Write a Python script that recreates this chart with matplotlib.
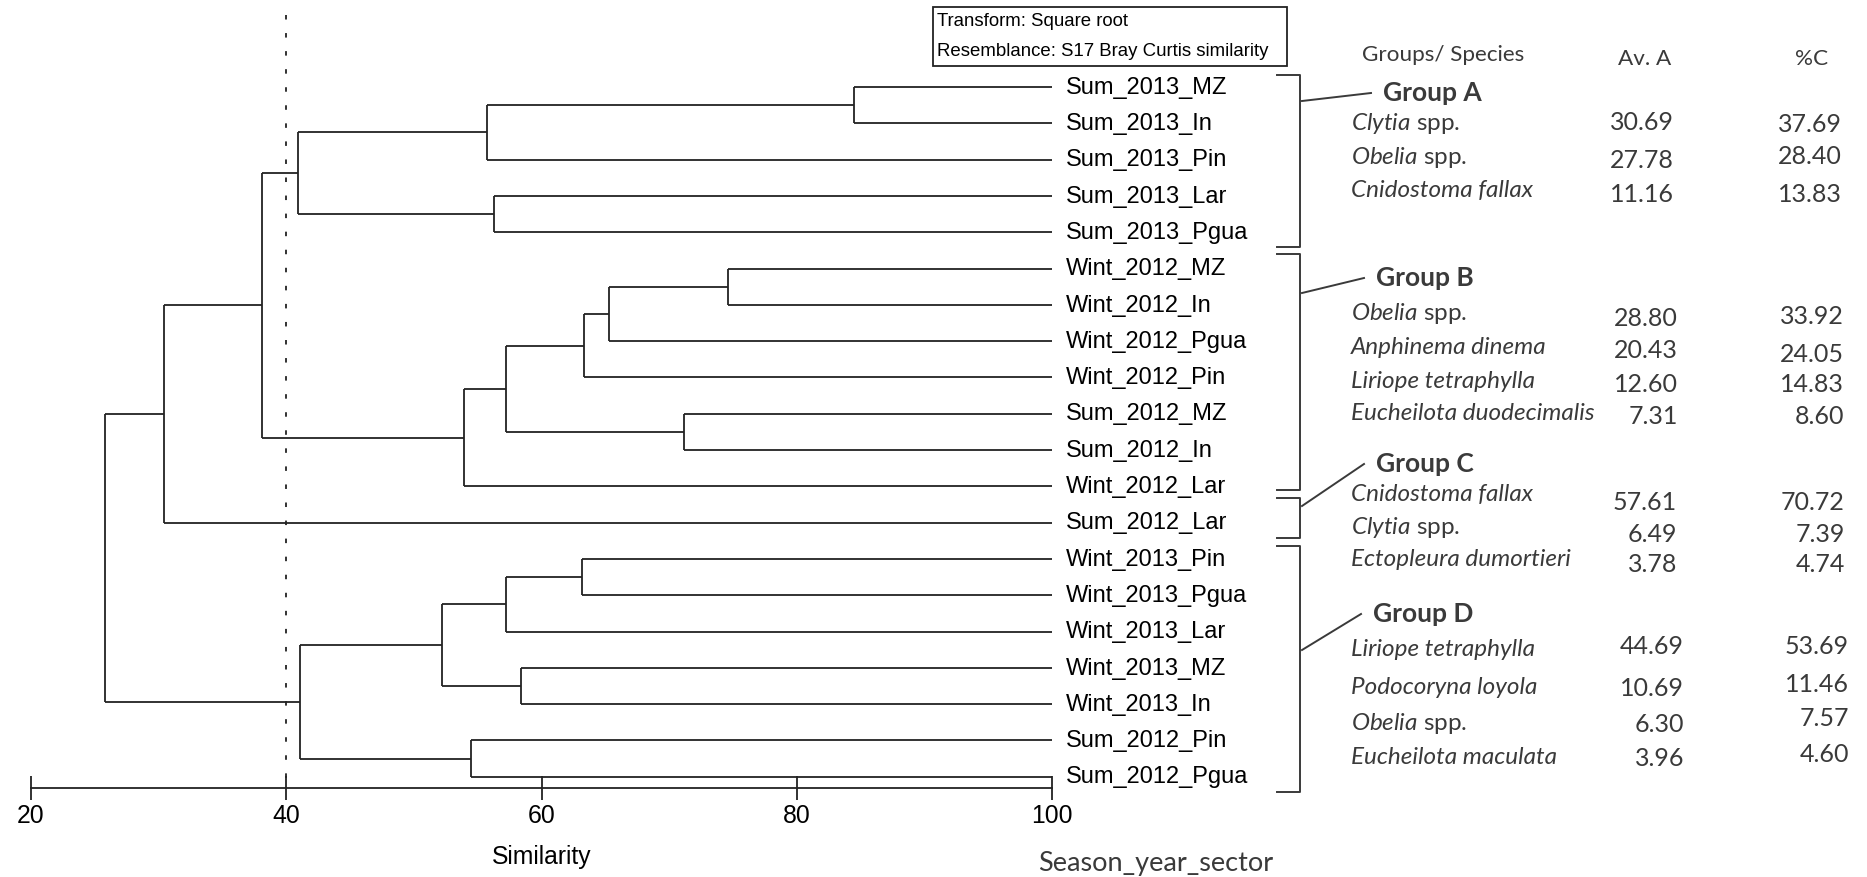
import matplotlib
matplotlib.use('Agg')
import matplotlib.pyplot as plt
from matplotlib import font_manager
from matplotlib.patches import Rectangle

W, H = 1867, 877

leaf_labels = ['Sum_2013_MZ', 'Sum_2013_In', 'Sum_2013_Pin', 'Sum_2013_Lar', 'Sum_2013_Pgua',
               'Wint_2012_MZ', 'Wint_2012_In', 'Wint_2012_Pgua', 'Wint_2012_Pin', 'Sum_2012_MZ',
               'Sum_2012_In', 'Wint_2012_Lar', 'Sum_2012_Lar', 'Wint_2013_Pin', 'Wint_2013_Pgua',
               'Wint_2013_Lar', 'Wint_2013_MZ', 'Wint_2013_In', 'Sum_2012_Pin', 'Sum_2012_Pgua']

# merges in order: ids < 20 are leaves, id 20 + k is the k-th merge
merge_a = [0, 20, 3, 21, 5, 24, 25, 9, 26, 28, 23, 30, 13, 32, 16, 33, 18, 35, 31]
merge_b = [1, 2, 4, 22, 6, 7, 8, 10, 27, 11, 29, 12, 14, 15, 17, 34, 19, 36, 37]
merge_sim = [84.5, 55.7, 56.3, 40.9, 74.6, 65.3, 63.3, 71.2, 57.2, 53.9, 38.1, 30.4,
             63.2, 57.2, 58.4, 52.2, 54.5, 41.1, 25.8]
cut_level = 40
sim_ticks = [20, 40, 60, 80, 100]

groups = ['Group A', 'Group B', 'Group C', 'Group D']
species_a = ['Clytia spp.', 'Obelia spp.', 'Cnidostoma fallax']
av_a = [30.69, 27.78, 11.16]
pc_a = [37.69, 28.40, 13.83]
species_b = ['Obelia spp.', 'Anphinema dinema', 'Liriope tetraphylla', 'Eucheilota duodecimalis']
av_b = [28.80, 20.43, 12.60, 7.31]
pc_b = [33.92, 24.05, 14.83, 8.60]
species_c = ['Cnidostoma fallax', 'Clytia spp.', 'Ectopleura dumortieri']
av_c = [57.61, 6.49, 3.78]
pc_c = [70.72, 7.39, 4.74]
species_d = ['Liriope tetraphylla', 'Podocoryna loyola', 'Obelia spp.', 'Eucheilota maculata']
av_d = [44.69, 10.69, 6.30, 3.96]
pc_d = [53.69, 11.46, 7.57, 4.60]

plt.rcParams['mathtext.fontset'] = 'custom'
plt.rcParams['mathtext.it'] = 'Lato:italic'
plt.rcParams['mathtext.rm'] = 'Lato'

# narrow font if there is one, otherwise Liberation Sans scaled down to the same width
installed = {f.name for f in font_manager.fontManager.ttflist}
if 'Liberation Sans Narrow' in installed:
    narrow, ns = ['Liberation Sans Narrow', 'DejaVu Sans'], 1.0
else:
    narrow, ns = ['Liberation Sans', 'DejaVu Sans'], 0.85
tfont = ['Lato', 'DejaVu Sans']
ink = '#3a3a3a'
lc = '#222222'

fig = plt.figure(figsize=(W / 100, H / 100), dpi=100)

# dendrogram axes (x = similarity, y = leaf order)
x0_px, x1_px, axis_px = 31, 1052, 788
leaf0_px, step_px = 87, 36.3
ax = fig.add_axes([x0_px / W, 1 - axis_px / H, (x1_px - x0_px) / W, axis_px / H])
ax.set_xlim(20, 100)
ybot = (axis_px - leaf0_px) / step_px
ax.set_ylim(ybot, -leaf0_px / step_px)

n = len(leaf_labels)
py = {i: float(i) for i in range(n)}
px = {i: 100.0 for i in range(n)}
for k, (a, b, s) in enumerate(zip(merge_a, merge_b, merge_sim)):
    for c in (a, b):
        ax.plot([s, px[c]], [py[c], py[c]], color=lc, lw=1.3, solid_capstyle='butt')
    ax.plot([s, s], [py[a], py[b]], color=lc, lw=1.3, solid_capstyle='butt')
    py[n + k] = (py[a] + py[b]) / 2
    px[n + k] = s

for i, lab in enumerate(leaf_labels):
    ax.text(101.1, i + 0.02, lab, fontsize=20 * ns, family=narrow, va='center', ha='left',
            color='black', clip_on=False)

ax.plot([cut_level, cut_level], [(15 - leaf0_px) / step_px, ybot], color=lc, lw=1.3,
        ls=(0, (2.5, 7.5)))

for sp in ['top', 'left', 'right']:
    ax.spines[sp].set_visible(False)
ax.spines['bottom'].set_linewidth(1.3)
ax.spines['bottom'].set_color(lc)
ax.set_yticks([])
ax.set_xticks(sim_ticks)
ax.tick_params(axis='x', direction='inout', length=17, width=1.3, color=lc,
               labelsize=21 * ns, pad=3)
for t in ax.get_xticklabels():
    t.set_fontfamily(narrow)
ax.set_xlabel('Similarity', fontsize=21 * ns, family=narrow, labelpad=12)
ax.patch.set_visible(False)

# overlay in pixel units for the legend box, brackets and table
ov = fig.add_axes([0, 0, 1, 1])
ov.set_xlim(0, W)
ov.set_ylim(H, 0)
ov.axis('off')

ov.add_patch(Rectangle((933, 7), 354, 59, fill=False, lw=1.3, ec=lc))
ov.text(937, 22, 'Transform: Square root', fontsize=15.8 * ns, family=narrow, va='center')
ov.text(937, 51, 'Resemblance: S17 Bray Curtis similarity', fontsize=15.8 * ns,
        family=narrow, va='center')

ov.text(1362, 55, 'Groups/ Species', fontsize=16.2, family=tfont, color=ink, va='center')
ov.text(1618, 59, 'Av. A', fontsize=16.2, family=tfont, color=ink, va='center')
ov.text(1795, 59, '%C', fontsize=16.2, family=tfont, color=ink, va='center')

bracket_top = [75, 254, 498, 546]
bracket_bot = [247, 490, 538, 792]
link_from = [101, 293, 506, 650]
head_xy = [(1383, 93), (1376, 278), (1376, 464), (1373, 614)]
name_y = [[124, 158, 191], [313, 348, 381, 414], [494, 528, 559], [649, 688, 724, 758]]
av_y = [[122, 160, 195], [319, 350, 385, 417], [502, 535, 564], [647, 688, 724, 759]]
pc_y = [[124, 156, 195], [317, 354, 385, 416], [502, 535, 564], [647, 684, 719, 754]]
av_right = [1674, 1678, 1677, 1684]
pc_right = [1842, 1844, 1845, 1849]

table = [(species_a, av_a, pc_a), (species_b, av_b, pc_b),
         (species_c, av_c, pc_c), (species_d, av_d, pc_d)]

for g, name in enumerate(groups):
    t, b = bracket_top[g], bracket_bot[g]
    ov.plot([1277, 1300, 1300, 1277], [t, t, b, b], color=ink, lw=1.4)
    hx, hy = head_xy[g]
    ov.plot([1302, hx - 12], [link_from[g], hy], color=ink, lw=1.4)
    ov.text(hx, hy, name, fontsize=19, family=tfont, weight='bold', color=ink, va='center')
    spp, av, pc = table[g]
    for r, sp in enumerate(spp):
        if sp.endswith(' spp.'):
            label = r'$\mathit{' + sp.split()[0] + '}$ spp.'
            ov.text(1351, name_y[g][r], label, fontsize=17.5, family=tfont, color=ink,
                    va='center')
        else:
            ov.text(1351, name_y[g][r], sp, fontsize=17.5, family=tfont, style='italic',
                    color=ink, va='center')
        ov.text(av_right[g], av_y[g][r], '%.2f' % av[r], fontsize=18, family=tfont,
                color=ink, va='center', ha='right')
        ov.text(pc_right[g], pc_y[g][r], '%.2f' % pc[r], fontsize=18, family=tfont,
                color=ink, va='center', ha='right')

ov.text(1038, 863, 'Season_year_sector', fontsize=19.5, family=tfont, color=ink, va='center')

fig.savefig('out.png', dpi=100)
